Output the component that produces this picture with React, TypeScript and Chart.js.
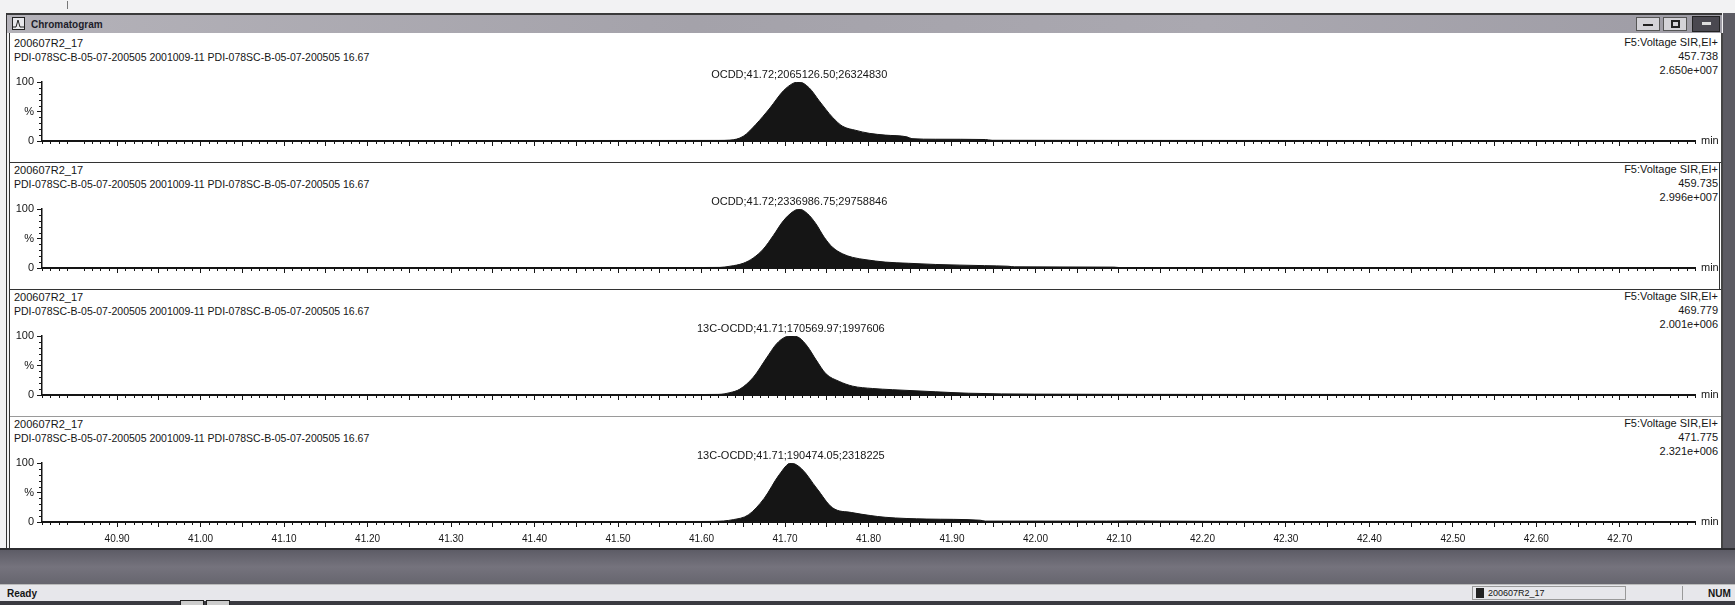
import React, { useEffect, useRef } from 'react';
import { Chart, registerables } from 'chart.js';

Chart.register(...registerables);

// ---------- axis ----------
const xMin = 40.81;
const xMax = 42.79;
const xTickStep = 0.05;
const yTickValues = [0, 50, 100];
const yTickLabels = ['0', '%', '100'];

// ---------- header text ----------
const sampleName = '200607R2_17';
const sampleDesc = 'PDI-078SC-B-05-07-200505 2001009-11 PDI-078SC-B-05-07-200505 16.67';
const functionNames = ['F5:Voltage SIR,EI+', 'F5:Voltage SIR,EI+', 'F5:Voltage SIR,EI+', 'F5:Voltage SIR,EI+'];
const massLabels = ['457.738', '459.735', '469.779', '471.775'];
const intensityLabels = ['2.650e+007', '2.996e+007', '2.001e+006', '2.321e+006'];
const peakLabels = [
  'OCDD;41.72;2065126.50;26324830',
  'OCDD;41.72;2336986.75;29758846',
  '13C-OCDD;41.71;170569.97;1997606',
  '13C-OCDD;41.71;190474.05;2318225',
];

// ---------- traces (retention time in min, relative intensity in %) ----------
const trace1Time = [40.81, 41.0, 41.2, 41.4, 41.55, 41.62, 41.634, 41.65, 41.665, 41.682, 41.698, 41.71, 41.717, 41.729, 41.741, 41.757, 41.769, 41.785, 41.801, 41.82, 41.846, 41.852, 41.88, 41.94, 41.948, 42.1, 42.3, 42.5, 42.79];
const trace1Pct = [0.6, 0.6, 0.7, 0.8, 0.9, 1.0, 1.5, 8, 28, 56, 85, 98, 100, 90, 68, 40, 25, 18, 13, 10, 7, 4, 3, 2.5, 1.2, 1.0, 0.9, 0.8, 0.8];

const trace2Time = [40.81, 41.1, 41.4, 41.6, 41.622, 41.634, 41.65, 41.662, 41.674, 41.686, 41.698, 41.71, 41.717, 41.727, 41.737, 41.747, 41.757, 41.769, 41.781, 41.797, 41.82, 41.848, 41.88, 41.939, 41.967, 41.975, 42.094, 42.1, 42.4, 42.79];
const trace2Pct = [0.6, 0.6, 0.7, 0.8, 1.0, 3, 8, 17, 32, 55, 80, 96, 100, 92, 75, 52, 35, 24, 18, 14, 10, 8, 6, 4, 3, 2, 1.5, 0.8, 0.7, 0.7];

const trace3Time = [40.81, 41.1, 41.4, 41.6, 41.62, 41.634, 41.646, 41.662, 41.678, 41.69, 41.7, 41.707, 41.717, 41.727, 41.737, 41.749, 41.765, 41.781, 41.805, 41.829, 41.88, 41.92, 41.999, 42.2, 42.5, 42.79];
const trace3Pct = [0.5, 0.5, 0.6, 0.8, 1.0, 4, 10, 30, 63, 87, 98, 100, 97, 82, 60, 36, 23, 15, 11, 9, 5.5, 3, 1.5, 1.0, 0.8, 0.8];

const trace4Time = [40.81, 41.1, 41.4, 41.6, 41.615, 41.638, 41.656, 41.675, 41.693, 41.707, 41.72, 41.738, 41.757, 41.78, 41.802, 41.82, 41.87, 41.934, 41.94, 42.085, 42.12, 42.15, 42.3, 42.79];
const trace4Pct = [0.5, 0.6, 0.7, 0.9, 1.0, 4, 12, 40, 80, 100, 90, 57, 24, 16, 11, 8, 5, 3, 1.5, 1.5, 1.8, 1.5, 0.8, 0.8];

const traceTimes = [trace1Time, trace2Time, trace3Time, trace4Time];
const tracePcts = [trace1Pct, trace2Pct, trace3Pct, trace4Pct];

const FONT = '"Liberation Sans", Arial, sans-serif';
Chart.defaults.font.family = FONT;

const PANEL_TOPS = [36, 163, 290, 417];
const PANEL_H = 127;
const INK = '#151515';

const decorPlugin = {
  id: 'decor',
  afterDraw(chart: any, _args: any, opts: any) {
    const { ctx, chartArea } = chart;
    const x = chart.scales.x;
    const y = chart.scales.y;
    ctx.save();
    ctx.strokeStyle = INK;
    ctx.lineWidth = 1;
    ctx.beginPath();
    for (let k = Math.ceil(x.min * 100); k <= Math.floor(x.max * 100); k++) {
      if (k % 5 === 0) continue;
      const px = Math.round(x.getPixelForValue(k / 100)) + 0.5;
      ctx.moveTo(px, chartArea.bottom);
      ctx.lineTo(px, chartArea.bottom + 3);
    }
    for (let v = 10; v < 100; v += 10) {
      if (v === 50) continue;
      const py = Math.round(y.getPixelForValue(v)) + 0.5;
      ctx.moveTo(chartArea.left - 3, py);
      ctx.lineTo(chartArea.left, py);
    }
    ctx.stroke();
    ctx.fillStyle = INK;
    ctx.font = '11px ' + FONT;
    ctx.textAlign = 'left';
    ctx.textBaseline = 'middle';
    ctx.fillText('min', chartArea.right + 6, chartArea.bottom);
    const data = chart.data.datasets[0].data as { x: number; y: number }[];
    let best = data[0];
    for (const p of data) if (p.y > best.y) best = p;
    ctx.textAlign = 'center';
    ctx.textBaseline = 'bottom';
    ctx.fillText(opts.label, x.getPixelForValue(best.x), y.getPixelForValue(best.y) - 2);
    ctx.restore();
  },
};

function ChromPanel({ idx }: { idx: number }) {
  const ref = useRef<HTMLCanvasElement>(null);
  useEffect(() => {
    const showX = idx === 3;
    const times = traceTimes[idx];
    const pcts = tracePcts[idx];
    const chart = new Chart(ref.current as HTMLCanvasElement, {
      type: 'line',
      data: {
        datasets: [
          {
            data: times.map((t, i) => ({ x: t, y: pcts[i] })),
            borderColor: INK,
            backgroundColor: INK,
            borderWidth: 1,
            pointRadius: 0,
            fill: 'origin',
            cubicInterpolationMode: 'monotone',
          },
        ],
      },
      options: {
        responsive: false,
        animation: false,
        devicePixelRatio: 1,
        layout: { padding: { left: 8, right: 40, top: 46, bottom: 0 } },
        plugins: { legend: { display: false }, tooltip: { enabled: false }, decor: { label: peakLabels[idx] } } as any,
        scales: {
          x: {
            type: 'linear',
            min: xMin,
            max: xMax,
            border: { display: true, color: INK, width: 2 },
            grid: { drawOnChartArea: false, drawTicks: true, tickLength: 5, tickColor: INK, color: INK },
            ticks: {
              stepSize: xTickStep,
              autoSkip: false,
              maxRotation: 0,
              padding: 6,
              color: INK,
              font: { size: 10 },
              callback: (v: any) => {
                const n = Number(v);
                if (!showX) return '';
                return Math.round(n * 100) % 10 === 0 ? n.toFixed(2) : '';
              },
            },
            afterBuildTicks: (axis: any) => {
              axis.ticks = axis.ticks.filter((t: any) => Math.abs(t.value * 20 - Math.round(t.value * 20)) < 1e-6);
            },
            afterFit: (axis: any) => {
              axis.height = 22;
            },
          },
          y: {
            min: 0,
            max: 100,
            border: { display: true, color: INK, width: 1.5 },
            grid: { drawOnChartArea: false, drawTicks: true, tickLength: 5, tickColor: INK, color: INK },
            ticks: {
              stepSize: 50,
              padding: 3,
              color: INK,
              font: { size: 11 },
              callback: (v: any) => {
                const i = yTickValues.indexOf(Number(v));
                return i >= 0 ? yTickLabels[i] : '';
              },
            },
            afterFit: (axis: any) => {
              axis.width = 34;
            },
          },
        },
      } as any,
      plugins: [decorPlugin],
    });
    return () => chart.destroy();
  }, [idx]);
  return (
    <canvas
      ref={ref}
      width={1735}
      height={PANEL_H}
      style={{ position: 'absolute', left: 0, top: PANEL_TOPS[idx], width: 1735, height: PANEL_H }}
    />
  );
}

const txt = (extra: React.CSSProperties): React.CSSProperties => ({
  position: 'absolute',
  fontSize: 11,
  lineHeight: '13px',
  color: INK,
  whiteSpace: 'nowrap',
  ...extra,
});

function PanelHeader({ idx }: { idx: number }) {
  const base = PANEL_TOPS[idx] + 105;
  return (
    <>
      <div style={txt({ left: 14, top: base - 104 })}>{sampleName}</div>
      <div style={txt({ left: 14, top: base - 90, fontSize: 10.5 })}>{sampleDesc}</div>
      <div style={txt({ right: 17, top: base - 105, textAlign: 'right' })}>{functionNames[idx]}</div>
      <div style={txt({ right: 17, top: base - 91, textAlign: 'right' })}>{massLabels[idx]}</div>
      <div style={txt({ right: 17, top: base - 77, textAlign: 'right' })}>{intensityLabels[idx]}</div>
    </>
  );
}

export default function App() {
  return (
    <div
      style={{
        position: 'absolute',
        left: 0,
        top: 0,
        width: 1735,
        height: 605,
        overflow: 'hidden',
        background: '#f2f2f3',
        fontFamily: FONT,
      }}
    >
      <div style={{ position: 'absolute', left: 67, top: 1, width: 1, height: 8, background: '#777' }} />
      {/* title bar */}
      <div
        style={{
          position: 'absolute',
          left: 6,
          top: 13,
          width: 1716,
          height: 20,
          background: 'linear-gradient(90deg, #b4b2b9 0%, #a4a2aa 40%, #aaa8b0 70%, #9e9ca5 100%)',
          borderTop: '2px solid #3a3a3a',
          boxSizing: 'border-box',
        }}
      >
        <div
          style={{
            position: 'absolute',
            left: 6,
            top: 2,
            width: 13,
            height: 13,
            border: '1px solid #222',
            background: '#e8e8ec',
            boxSizing: 'border-box',
          }}
        >
          <svg width="11" height="11" style={{ position: 'absolute', left: 0, top: 0 }}>
            <polyline points="0,9 3,9 5,2 7,9 11,9" fill="none" stroke="#222" strokeWidth="1" />
          </svg>
        </div>
        <div style={txt({ left: 25, top: 3, fontSize: 10, fontWeight: 'bold', color: '#1d1d2a' })}>Chromatogram</div>
        <div style={{ position: 'absolute', left: 1630, top: 2, width: 24, height: 14, background: '#d4d3d8', border: '1px solid #555', boxSizing: 'border-box' }}>
          <div style={{ position: 'absolute', left: 6, top: 6, width: 10, height: 2, background: '#222' }} />
        </div>
        <div style={{ position: 'absolute', left: 1657, top: 2, width: 24, height: 14, background: '#d4d3d8', border: '1px solid #555', boxSizing: 'border-box' }}>
          <div style={{ position: 'absolute', left: 7, top: 2, width: 9, height: 8, border: '2px solid #222', boxSizing: 'border-box' }} />
        </div>
        <div style={{ position: 'absolute', left: 1686, top: 1, width: 28, height: 16, background: '#4a4850', border: '1px solid #222', boxSizing: 'border-box' }}>
          <div style={{ position: 'absolute', left: 9, top: 5, width: 9, height: 3, background: '#ddd' }} />
        </div>
      </div>
      {/* content area */}
      <div style={{ position: 'absolute', left: 10, top: 33, width: 1712, height: 516, background: '#ffffff' }} />
      <div style={{ position: 'absolute', left: 6, top: 13, width: 1, height: 537, background: '#333' }} />
      <div style={{ position: 'absolute', left: 9, top: 33, width: 1, height: 516, background: '#333' }} />
      <div style={{ position: 'absolute', left: 1721, top: 33, width: 2, height: 516, background: '#444' }} />
      <div style={{ position: 'absolute', left: 1723, top: 13, width: 12, height: 537, background: '#5c5b63' }} />
      {/* panel separators */}
      <div style={{ position: 'absolute', left: 10, top: 162, width: 1711, height: 1, background: '#333' }} />
      <div style={{ position: 'absolute', left: 10, top: 289, width: 1711, height: 1, background: '#333' }} />
      <div style={{ position: 'absolute', left: 10, top: 416, width: 1711, height: 1, background: '#9a9a9a' }} />
      <div style={{ position: 'absolute', left: 1719, top: 162, width: 1, height: 128, background: '#333' }} />
      {[0, 1, 2, 3].map((i) => (
        <PanelHeader key={'h' + i} idx={i} />
      ))}
      {[0, 1, 2, 3].map((i) => (
        <ChromPanel key={'c' + i} idx={i} />
      ))}
      {/* bottom band */}
      <div style={{ position: 'absolute', left: 0, top: 548, width: 1735, height: 2, background: '#2c2c30' }} />
      <div
        style={{
          position: 'absolute',
          left: 0,
          top: 550,
          width: 1735,
          height: 34,
          background: 'linear-gradient(180deg, #5d5c66 0%, #75737d 50%, #66656e 100%)',
        }}
      />
      <div style={{ position: 'absolute', left: 0, top: 584, width: 1735, height: 17, background: '#e7e7eb', borderTop: '1px solid #bbb', boxSizing: 'border-box' }} />
      <div style={txt({ left: 7, top: 587, fontSize: 10, fontWeight: 'bold' })}>Ready</div>
      <div style={{ position: 'absolute', left: 1472, top: 586, width: 154, height: 14, border: '1px solid #999', boxSizing: 'border-box' }} />
      <div style={{ position: 'absolute', left: 1476, top: 588, width: 8, height: 10, background: '#222' }} />
      <div style={txt({ left: 1488, top: 587, fontSize: 9 })}>{sampleName}</div>
      <div style={{ position: 'absolute', left: 1682, top: 586, width: 1, height: 14, background: '#999' }} />
      <div style={txt({ left: 1708, top: 587, fontSize: 10, fontWeight: 'bold' })}>NUM</div>
      <div style={{ position: 'absolute', left: 0, top: 601, width: 1735, height: 4, background: '#3a3a40' }} />
      <div style={{ position: 'absolute', left: 180, top: 600, width: 22, height: 5, background: '#ccc', border: '1px solid #222' }} />
      <div style={{ position: 'absolute', left: 206, top: 600, width: 22, height: 5, background: '#ccc', border: '1px solid #222' }} />
    </div>
  );
}
